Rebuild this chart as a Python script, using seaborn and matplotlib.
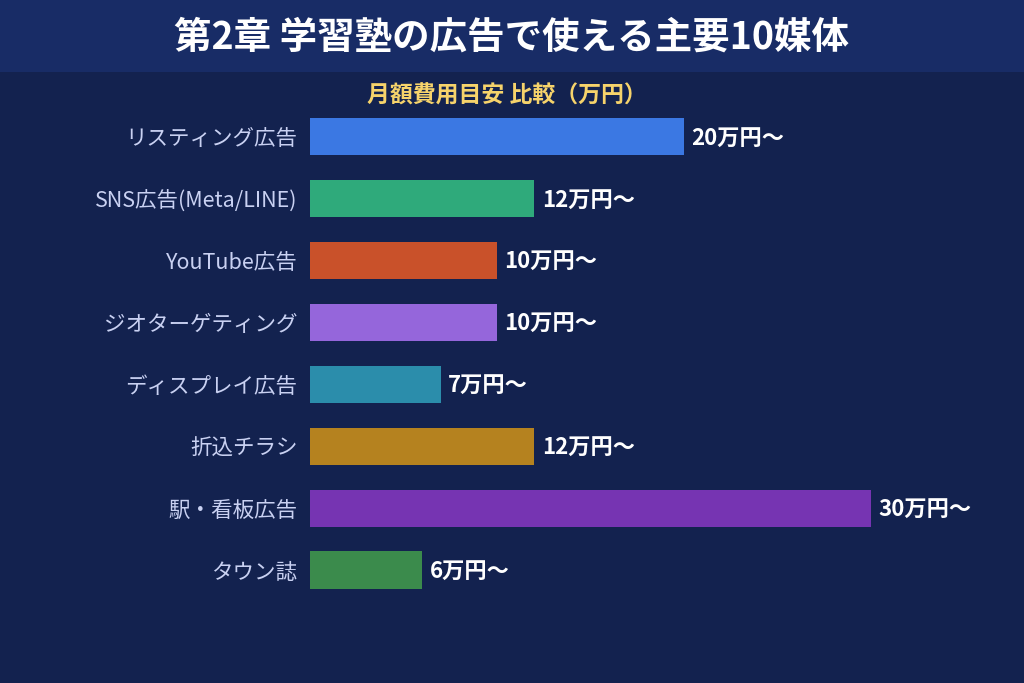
import matplotlib
matplotlib.use('Agg')
import matplotlib.pyplot as plt
import seaborn as sns
import pandas as pd

sns.set_theme(style="white")
plt.rcParams['font.family'] = ['Noto Sans CJK JP', 'DejaVu Sans']

# data
media = ['リスティング広告', 'SNS広告(Meta/LINE)', 'YouTube広告', 'ジオターゲティング',
         'ディスプレイ広告', '折込チラシ', '駅・看板広告', 'タウン誌']
cost = [20, 12, 10, 10, 7, 12, 30, 6]
cost_labels = ['20万円〜', '12万円〜', '10万円〜', '10万円〜', '7万円〜', '12万円〜', '30万円〜', '6万円〜']
bar_colors = ['#3b78e3', '#2faa7b', '#c9512a', '#9566db', '#2b8dab', '#b5821f', '#7634b2', '#3b8b4c']

bg = '#13224f'
band = '#182c66'

df = pd.DataFrame({'media': media, 'cost': cost})

fig = plt.figure(figsize=(10.24, 6.83), dpi=100)
fig.patch.set_facecolor(bg)

# title band
fig.patches.append(plt.Rectangle((0, 1 - 72 / 683), 1, 72 / 683, transform=fig.transFigure,
                                 facecolor=band, edgecolor='none', zorder=0))
fig.text(0.5, 1 - 37 / 683, '第2章 学習塾の広告で使える主要10媒体', color='white',
         fontsize=27, fontweight='bold', ha='center', va='center')
fig.text(0.495, 1 - 96 / 683, '月額費用目安 比較（万円）', color='#f6d36b',
         fontsize=16.5, fontweight='bold', ha='center', va='center')

ax = fig.add_axes([310 / 1024, 1 - 601 / 683, 673 / 1024, 495.5 / 683])
ax.set_facecolor(bg)
sns.barplot(data=df, x='cost', y='media', hue='media', palette=bar_colors,
            legend=False, width=0.6, saturation=1, linewidth=0, ax=ax)

ax.set_xlim(0, 36)
ax.set_ylim(7.5, -0.5)
for i, (v, lab) in enumerate(zip(cost, cost_labels)):
    # small nudge down so the CJK glyphs sit on the bar centre
    ax.text(v + 0.4, i + 0.04, lab, color='white', fontsize=16, fontweight='bold',
            va='center', ha='left')

ax.set_xlabel('')
ax.set_ylabel('')
ax.set_xticks([])
ax.tick_params(axis='y', length=0, pad=9, labelsize=15.5, labelcolor='#c9d1f2')
for s in ax.spines.values():
    s.set_visible(False)

fig.savefig('out.png', dpi=100, facecolor=bg)
